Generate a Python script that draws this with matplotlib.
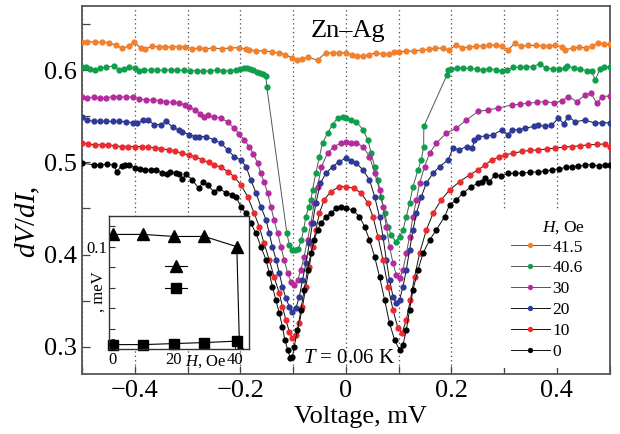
import matplotlib
matplotlib.use('Agg')
import matplotlib.pyplot as plt
from matplotlib.ticker import MultipleLocator, FixedLocator
from matplotlib.lines import Line2D

plt.rcParams['font.family'] = ['Liberation Serif', 'DejaVu Serif']
plt.rcParams['mathtext.fontset'] = 'custom'
plt.rcParams['mathtext.rm'] = 'Liberation Serif'
plt.rcParams['mathtext.it'] = 'Liberation Serif:italic'

# ---------------- data ----------------
v_41_5 = [-0.500, -0.490, -0.475, -0.462, -0.449, -0.436, -0.424, -0.411, -0.402, -0.389, -0.380, -0.367,
          -0.354, -0.342, -0.329, -0.316, -0.304, -0.291, -0.278, -0.266, -0.252, -0.235, -0.220, -0.202,
          -0.190, -0.183, -0.170, -0.155, -0.140, -0.126, -0.115, -0.101, -0.0915, -0.082, -0.072, -0.0535,
          -0.0376, -0.025, -0.012, 0.0, 0.012, 0.022, 0.032, 0.045, 0.058, 0.070, 0.082, 0.092, 0.1015,
          0.115, 0.130, 0.145, 0.158, 0.170, 0.184, 0.196, 0.209, 0.221, 0.234, 0.247, 0.260, 0.272, 0.285,
          0.297, 0.308, 0.320, 0.333, 0.346, 0.360, 0.373, 0.385, 0.397, 0.410, 0.416, 0.430, 0.442, 0.455,
          0.467, 0.479, 0.490, 0.500]
r_41_5 = [0.6305, 0.631, 0.6305, 0.6305, 0.630, 0.627, 0.624, 0.626, 0.631, 0.624, 0.623, 0.626,
          0.6255, 0.625, 0.6255, 0.6255, 0.625, 0.6235, 0.624, 0.6235, 0.624, 0.6235, 0.624, 0.6245,
          0.623, 0.622, 0.621, 0.621, 0.620, 0.6186, 0.617, 0.613, 0.611, 0.6125, 0.614, 0.611,
          0.619, 0.6185, 0.619, 0.619, 0.617, 0.6155, 0.6155, 0.617, 0.619, 0.6175, 0.618, 0.6195, 0.620,
          0.6205, 0.621, 0.622, 0.6225, 0.624, 0.624, 0.622, 0.6275, 0.6245, 0.625, 0.626, 0.6265, 0.627, 0.6275,
          0.626, 0.622, 0.629, 0.626, 0.627, 0.627, 0.6265, 0.6265, 0.627, 0.6255, 0.622, 0.624, 0.625, 0.6245,
          0.626, 0.630, 0.628, 0.628]

v_40_6 = [-0.500, -0.493, -0.485, -0.475, -0.465, -0.455, -0.440, -0.430, -0.420, -0.410, -0.400, -0.392,
          -0.382, -0.370, -0.357, -0.345, -0.332, -0.320, -0.307, -0.295, -0.282, -0.270, -0.258, -0.245,
          -0.232, -0.220, -0.208, -0.200, -0.193, -0.187, -0.181, -0.175, -0.169, -0.163, -0.157, -0.1515,
          -0.1497, -0.1117, -0.107, -0.1015, -0.096, -0.090, -0.084, -0.0795, -0.0756, -0.070, -0.066, -0.063,
          -0.0566, -0.050, -0.044, -0.0345, -0.025, -0.0156, -0.006, 0.001, 0.010, 0.020, 0.0326, 0.042,
          0.048, 0.0547, 0.061, 0.067, 0.0737, 0.080, 0.0863, 0.0946, 0.102, 0.1085, 0.1148, 0.121, 0.1275,
          0.137, 0.1433, 0.1477, 0.1480, 0.192, 0.194, 0.200, 0.210, 0.222, 0.235, 0.248, 0.260, 0.272, 0.285,
          0.296, 0.305, 0.318, 0.330, 0.342, 0.355, 0.368, 0.380, 0.392, 0.405, 0.416, 0.420, 0.432, 0.445,
          0.458, 0.466, 0.473, 0.482, 0.490, 0.500]
r_40_6 = [0.6030, 0.6040, 0.6010, 0.6005, 0.6025, 0.6030, 0.6050, 0.6005, 0.6010, 0.6030, 0.6025, 0.5995,
          0.6000, 0.6005, 0.6000, 0.6000, 0.6005, 0.6000, 0.6000, 0.5995, 0.5995, 0.5990, 0.5995, 0.6000,
          0.5990, 0.5995, 0.6005, 0.6010, 0.6020, 0.6025, 0.6015, 0.6000, 0.5985, 0.5975, 0.5960, 0.5940,
          0.5817, 0.4235, 0.4104, 0.4050, 0.4045, 0.4060, 0.4160, 0.4280, 0.4410, 0.4520, 0.4590, 0.4700,
          0.4886, 0.5060, 0.5209, 0.5317, 0.5410, 0.5480, 0.5497, 0.5480, 0.5465, 0.5443, 0.5353, 0.5244,
          0.5100, 0.4954, 0.4810, 0.4629, 0.4448, 0.4303, 0.4213, 0.4140, 0.4194, 0.4267, 0.4411, 0.4557, 0.4737,
          0.4919, 0.5027, 0.5172, 0.5390, 0.5950, 0.6004, 0.6015, 0.6020, 0.6025, 0.6020, 0.6010, 0.6005, 0.6015, 0.6005,
          0.5990, 0.6000, 0.6030, 0.6035, 0.6035, 0.6040, 0.6070, 0.6020, 0.6015, 0.6010, 0.6020, 0.6050, 0.6020, 0.6010,
          0.5995, 0.5986, 0.5896, 0.6010, 0.6030, 0.6040]

v_30 = [-0.500, -0.490, -0.478, -0.466, -0.454, -0.441, -0.429, -0.416, -0.404, -0.391, -0.378, -0.366,
        -0.353, -0.341, -0.328, -0.316, -0.304, -0.298, -0.285, -0.276, -0.269, -0.262, -0.250, -0.237,
        -0.224, -0.2116, -0.202, -0.1926, -0.183, -0.175, -0.167, -0.161, -0.155, -0.148, -0.142, -0.136,
        -0.129, -0.123, -0.1167, -0.110, -0.104, -0.0977, -0.091, -0.085, -0.079, -0.0725, -0.066, -0.0598,
        -0.0535, -0.046, -0.0345, -0.022, -0.009, 0.0, 0.010, 0.020, 0.0326, 0.045, 0.0547, 0.064, 0.0706,
        0.0769, 0.083, 0.0896, 0.0958, 0.102, 0.1085, 0.1148, 0.121, 0.1275, 0.134, 0.140, 0.1495, 0.159,
        0.1717, 0.1907, 0.2097, 0.2287, 0.251, 0.270, 0.289, 0.315, 0.330, 0.346, 0.362, 0.378, 0.395, 0.410,
        0.422, 0.438, 0.454, 0.465, 0.476, 0.486, 0.500]
r_30 = [0.5714, 0.5700, 0.5705, 0.5695, 0.5700, 0.5714, 0.5714, 0.5705, 0.5714, 0.5690, 0.5678, 0.5680,
        0.5670, 0.5660, 0.5650, 0.5642, 0.5620, 0.5600, 0.5570, 0.5530, 0.5497, 0.5510, 0.5497, 0.5480,
        0.5440, 0.5370, 0.5310, 0.5244, 0.5170, 0.5090, 0.4990, 0.4882, 0.4790, 0.4666, 0.4520, 0.4376,
        0.4230, 0.4086, 0.3941, 0.3797, 0.3706, 0.3670, 0.3724, 0.3833, 0.3977, 0.4158, 0.4340, 0.4557,
        0.4737, 0.4954, 0.5100, 0.5172, 0.5209, 0.5226, 0.5215, 0.5209, 0.5172, 0.5063, 0.4886, 0.4700, 0.4520,
        0.4303, 0.4086, 0.3905, 0.3778, 0.3742, 0.3833, 0.4014, 0.4194, 0.4411, 0.4593, 0.4774, 0.4954, 0.5100,
        0.5209, 0.5317, 0.5371, 0.5461, 0.5552, 0.5570, 0.5588, 0.5624, 0.5630, 0.5642, 0.5650, 0.5660, 0.5645, 0.5670,
        0.5714, 0.5660, 0.5733, 0.5750, 0.5640, 0.5714, 0.5720]

v_20 = [-0.500, -0.490, -0.478, -0.466, -0.454, -0.441, -0.429, -0.416, -0.404, -0.396, -0.384, -0.375,
        -0.363, -0.350, -0.340, -0.328, -0.316, -0.310, -0.297, -0.285, -0.278, -0.265, -0.250, -0.237,
        -0.224, -0.2116, -0.199, -0.189, -0.180, -0.170, -0.161, -0.151, -0.145, -0.139, -0.132, -0.126,
        -0.120, -0.1135, -0.107, -0.101, -0.0945, -0.088, -0.082, -0.0755, -0.069, -0.063, -0.0566, -0.048,
        -0.0376, -0.025, -0.012, 0.0, 0.010, 0.020, 0.0326, 0.045, 0.0547, 0.064, 0.0706, 0.0769, 0.083,
        0.0896, 0.0958, 0.102, 0.1085, 0.1148, 0.121, 0.1275, 0.134, 0.1433, 0.1528, 0.1655, 0.178, 0.194,
        0.2034, 0.215, 0.229, 0.240, 0.244, 0.251, 0.265, 0.280, 0.296, 0.308, 0.315, 0.328, 0.340, 0.356,
        0.365, 0.378, 0.390, 0.403, 0.413, 0.422, 0.435, 0.454, 0.473, 0.486, 0.500]
r_20 = [0.5497, 0.5460, 0.5445, 0.5445, 0.5445, 0.5445, 0.5445, 0.5440, 0.5430, 0.5425, 0.5460, 0.5460,
        0.5410, 0.5410, 0.5445, 0.5380, 0.5350, 0.5334, 0.5300, 0.5280, 0.5280, 0.5280, 0.5244, 0.5210,
        0.5136, 0.5063, 0.5027, 0.4954, 0.4810, 0.4666, 0.4520, 0.4376, 0.4230, 0.4086, 0.3941, 0.3797,
        0.3652, 0.3526, 0.3434, 0.3380, 0.3417, 0.3543, 0.3724, 0.3905, 0.4123, 0.4340, 0.4557, 0.4774,
        0.4883, 0.4954, 0.5009, 0.5045, 0.5020, 0.4990, 0.4919, 0.4810, 0.4629, 0.4411, 0.4194, 0.3941, 0.3724,
        0.3543, 0.3471, 0.3507, 0.3652, 0.3833, 0.4050, 0.4267, 0.4448, 0.4629, 0.4774, 0.4883, 0.4954, 0.5027,
        0.5154, 0.5136, 0.5172, 0.5154, 0.5245, 0.5280, 0.5285, 0.5300, 0.5353, 0.5300, 0.5353, 0.5355, 0.5370, 0.5390,
        0.5405, 0.5390, 0.5400, 0.5480, 0.5420, 0.5497, 0.5440, 0.5460, 0.5425, 0.5430, 0.5430]

v_10 = [-0.500, -0.488, -0.475, -0.462, -0.450, -0.437, -0.425, -0.412, -0.400, -0.387, -0.375, -0.362,
        -0.350, -0.336, -0.323, -0.310, -0.298, -0.285, -0.272, -0.260, -0.250, -0.237, -0.224, -0.2116,
        -0.199, -0.186, -0.1736, -0.164, -0.155, -0.145, -0.136, -0.126, -0.120, -0.1135, -0.107, -0.101,
        -0.0945, -0.088, -0.082, -0.0755, -0.069, -0.063, -0.0566, -0.050, -0.041, -0.028, -0.012, 0.0,
        0.015, 0.0294, 0.042, 0.0516, 0.061, 0.0706, 0.080, 0.0896, 0.099, 0.1066, 0.1148, 0.1224, 0.1306,
        0.140, 0.1528, 0.1655, 0.181, 0.197, 0.216, 0.235, 0.251, 0.264, 0.277, 0.290, 0.302, 0.318, 0.3336,
        0.350, 0.365, 0.381, 0.397, 0.413, 0.4285, 0.444, 0.460, 0.476, 0.492, 0.500]
r_10 = [0.5209, 0.5200, 0.5190, 0.5190, 0.5190, 0.5180, 0.5172, 0.5172, 0.5172, 0.5172, 0.5165, 0.5160,
        0.5150, 0.5136, 0.5120, 0.5100, 0.5080, 0.5060, 0.5027, 0.5000, 0.4970, 0.4950, 0.4900, 0.4846,
        0.4756, 0.4629, 0.4448, 0.4303, 0.4123, 0.3941, 0.3760, 0.3580, 0.3434, 0.3290, 0.3163, 0.3091,
        0.3127, 0.3254, 0.3434, 0.3652, 0.3869, 0.4086, 0.4267, 0.4448, 0.4593, 0.4683, 0.4737, 0.4737,
        0.4720, 0.4666, 0.4557, 0.4411, 0.4194, 0.3941, 0.3652, 0.3399, 0.3200, 0.3145, 0.3290, 0.3507, 0.3760,
        0.4014, 0.4267, 0.4448, 0.4593, 0.4700, 0.4792, 0.4864, 0.4919, 0.4970, 0.5027, 0.5055, 0.5082, 0.5100, 0.5118,
        0.5130, 0.5136, 0.5145, 0.5154, 0.5165, 0.5172, 0.5180, 0.5190, 0.5195, 0.5200, 0.5172]

v_0 = [-0.500, -0.477, -0.465, -0.452, -0.440, -0.434, -0.425, -0.418, -0.410, -0.400, -0.390, -0.380,
       -0.370, -0.360, -0.348, -0.338, -0.333, -0.322, -0.316, -0.310, -0.302, -0.291, -0.279, -0.270,
       -0.262, -0.250, -0.240, -0.227, -0.215, -0.208, -0.199, -0.189, -0.180, -0.170, -0.161, -0.151,
       -0.145, -0.139, -0.1325, -0.126, -0.120, -0.1154, -0.110, -0.105, -0.101, -0.0977, -0.0915, -0.085,
       -0.079, -0.0725, -0.066, -0.0598, -0.0535, -0.047, -0.0376, -0.028, -0.0186, -0.009, 0.0, 0.0136,
       0.026, 0.0357, 0.045, 0.0547, 0.064, 0.0737, 0.083, 0.0926, 0.102, 0.1085, 0.1148, 0.121, 0.1275,
       0.137, 0.1465, 0.159, 0.1717, 0.1875, 0.197, 0.2097, 0.2224, 0.238, 0.251, 0.258, 0.264, 0.272, 0.283,
       0.295, 0.308, 0.320, 0.334, 0.350, 0.365, 0.378, 0.391, 0.405, 0.417, 0.428, 0.441, 0.454, 0.467,
       0.480, 0.492, 0.500]
r_0 = [0.4991, 0.4973, 0.4973, 0.4980, 0.4973, 0.4900, 0.4965, 0.4973, 0.4973, 0.4940, 0.4930, 0.4920,
       0.4915, 0.4920, 0.4883, 0.4870, 0.4900, 0.4880, 0.4870, 0.4820, 0.4870, 0.4810, 0.4720, 0.4790,
       0.4750, 0.4683, 0.4720, 0.4666, 0.4650, 0.4629, 0.4520, 0.4448, 0.4340, 0.4230, 0.4086, 0.3941,
       0.3797, 0.3652, 0.3507, 0.3362, 0.3217, 0.3073, 0.2964, 0.2874, 0.2884, 0.3000, 0.3180, 0.3399,
       0.3616, 0.3833, 0.4014, 0.4158, 0.4267, 0.4340, 0.4411, 0.4448, 0.4502, 0.4520, 0.4502, 0.4483,
       0.4411, 0.4303, 0.4158, 0.3977, 0.3760, 0.3507, 0.3254, 0.3073, 0.2964, 0.3018, 0.3181, 0.3399, 0.3616,
       0.3833, 0.4014, 0.4158, 0.4267, 0.4411, 0.4539, 0.4593, 0.4666, 0.4737, 0.4774, 0.4790, 0.4829, 0.4790, 0.4864,
       0.4850, 0.4883, 0.4880, 0.4885, 0.4890, 0.4900, 0.4905, 0.4919, 0.4930, 0.4945, 0.4954, 0.4960, 0.4973, 0.4975,
       0.4960, 0.4973, 0.4975]

series_labels = ['41.5', '40.6', '30', '20', '10', '0']
series_v = [v_41_5, v_40_6, v_30, v_20, v_10, v_0]
series_r = [r_41_5, r_40_6, r_30, r_20, r_10, r_0]
marker_colors = ['#F4802A', '#0E9F4C', '#B52A9C', '#2E3A97', '#EE2A2E', '#000000']
line_colors = ['#555555', '#555555', '#555555', '#111111', '#111111', '#111111']

# inset data
inset_H = [0, 10, 20, 30, 40.6, 41.5]
inset_tri = [0.112, 0.112, 0.110, 0.110, 0.100, 0.0]
inset_H_sq = [0, 10, 20, 30, 40.6]
inset_sq = [0.0043, 0.0043, 0.0053, 0.0063, 0.0077]

x_ticks = [-0.4, -0.2, 0.0, 0.2, 0.4]
y_ticks = [0.3, 0.4, 0.5, 0.6]

# ---------------- figure ----------------
W, H = 620, 434
fig = plt.figure(figsize=(6.2, 4.34), dpi=100)

def fx(px):
    return px / W

def fy(py):
    return 1 - py / H

ax = fig.add_axes([fx(82), fy(374.3), fx(609.5) - fx(82), fy(5.7) - fy(374.3)])
ax.set_xlim(-0.5, 0.5)
ax.set_ylim(0.270, 0.670)

for lab, vv, rr, mc, lc in zip(series_labels, series_v, series_r, marker_colors, line_colors):
    ax.plot(vv, rr, '-', color=lc, lw=0.7, marker='o', ms=4.5, mfc=mc, mec=mc, mew=0,
            label=lab, zorder=3)

ax.xaxis.set_major_locator(FixedLocator(x_ticks))
ax.xaxis.set_minor_locator(MultipleLocator(0.1))
ax.yaxis.set_major_locator(FixedLocator(y_ticks))
ax.yaxis.set_minor_locator(MultipleLocator(0.05))
ax.set_xticklabels(['\u22120.4', '\u22120.2', '0', '0.2', '0.4'])
ax.set_yticklabels(['0.3', '0.4', '0.5', '0.6'])
ax.tick_params(axis='both', which='both', direction='in', length=6, width=0.9,
               color='#444444', labelsize=19, pad=4, top=False, right=False)
for s in ax.spines.values():
    s.set_color('#555555')
    s.set_linewidth(1.3)

ax.grid(True, axis='x', which='both', linestyle=(0, (1, 2.5)), color='#444444', lw=0.9)
ax.set_axisbelow(True)

fig.text(fx(348.5), fy(37), 'Zn\u2013Ag', ha='center', va='baseline', fontsize=19)
fig.text(fx(349), fy(363), '$T$ = 0.06 K', ha='center', va='baseline', fontsize=15)
fig.text(fx(360), fy(423), 'Voltage, mV', ha='center', va='baseline', fontsize=19)
fig.text(fx(28), fy(222), '$dV/dI$,', ha='center', va='center', rotation=90, fontsize=21)

leg = ax.legend(loc='upper left', bbox_to_anchor=(fx(502), fy(210)), bbox_transform=fig.transFigure,
                title=' ', title_fontsize=12.5, fontsize=12.5, frameon=True, fancybox=False,
                edgecolor='none', facecolor='white', framealpha=1, handlelength=2.25,
                handletextpad=0.15, labelspacing=0.27, borderpad=0.5, borderaxespad=0,
                markerscale=0.85)
leg.set_zorder(10)
fig.text(fx(564), fy(228), '$H$, Oe', ha='center', va='center', fontsize=12.5, zorder=20)

# ---------------- inset ----------------
ins = fig.add_axes([fx(109), fy(349), fx(249) - fx(109), fy(216) - fy(349)])
ins.set_zorder(5)
ins.set_facecolor('white')
ins.set_xlim(-1.3, 44.6)
ins.set_ylim(0.0, 0.130)
ins.plot(inset_H, inset_tri, '-', color='black', lw=0.8, marker='^', ms=8, clip_on=True)
ins.plot(inset_H_sq, inset_sq, '-', color='black', lw=0.8, marker='s', ms=6.5, clip_on=False)
ins.xaxis.set_major_locator(FixedLocator([0, 20, 40]))
ins.xaxis.set_minor_locator(FixedLocator([10, 30]))
ins.yaxis.set_major_locator(FixedLocator([0.1]))
ins.yaxis.set_minor_locator(FixedLocator([0.02, 0.04, 0.06, 0.08, 0.12]))
ins.set_xticklabels(['0', '20', '40'])
ins.set_yticklabels(['0.1'])
ins.tick_params(axis='both', which='both', direction='in', length=4, width=0.8,
                color='#333333', labelsize=12, pad=1)
ins.tick_params(axis='x', pad=2.5)
for s in ins.spines.values():
    s.set_color('#333333')
    s.set_linewidth(1.0)
ins.set_xlabel('$H$, Oe', fontsize=12)
ins.xaxis.set_label_coords(0.69, -0.03)
ins.xaxis.label.set_va('top')
fig.text(fx(99), fy(292), ', meV', rotation=90, ha='center', va='center', fontsize=12)
ins.text(0.0, 0.003, '0', ha='center', va='center', fontsize=12)

h_tri = Line2D([], [], color='black', lw=0.8, marker='^', ms=8)
h_sq = Line2D([], [], color='black', lw=0.8, marker='s', ms=6.5)
ileg = ins.legend([h_tri, h_sq], ['', ''], loc='center', bbox_to_anchor=(fx(176), fy(279)),
                  bbox_transform=fig.transFigure, frameon=False, handlelength=1.3,
                  handletextpad=0, labelspacing=0.35, borderpad=0, fontsize=12)

fig.savefig('out.png', dpi=100)
